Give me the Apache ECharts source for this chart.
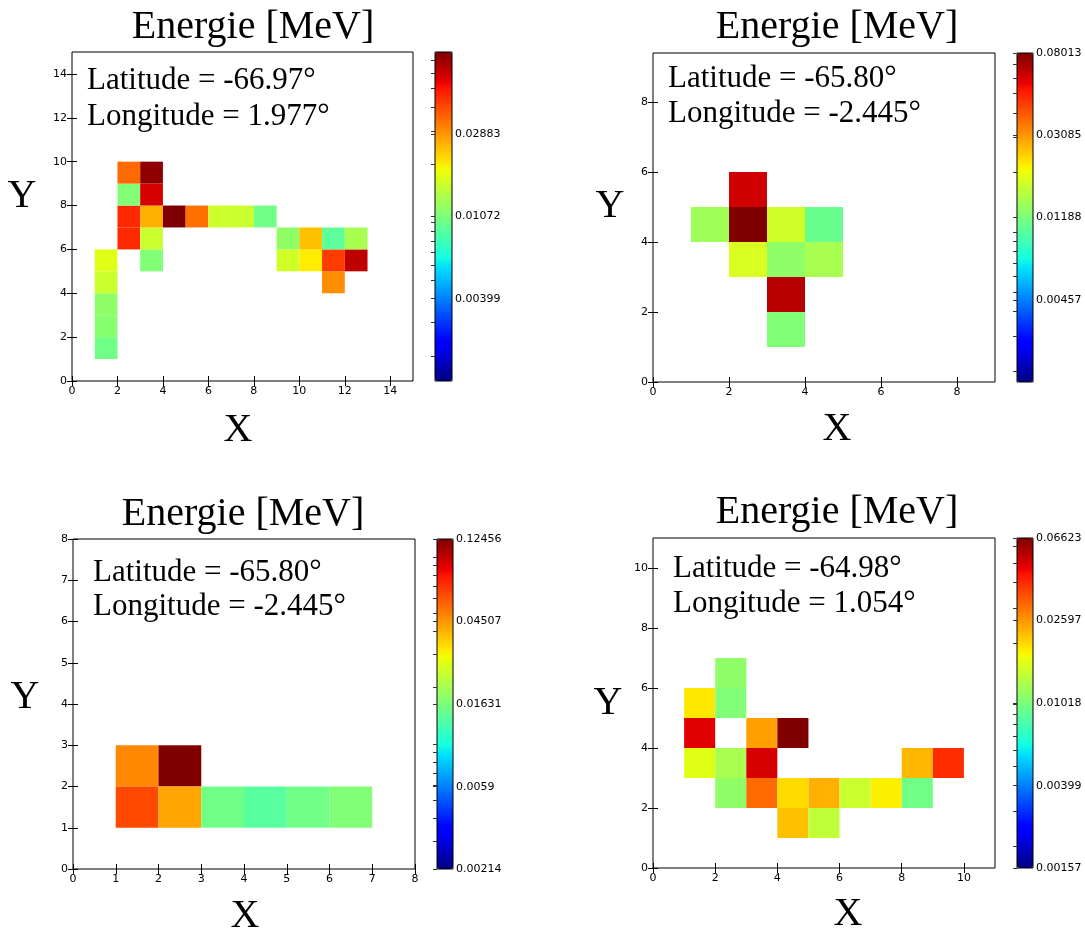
<!DOCTYPE html>
<html><head><meta charset="utf-8">
<script src="https://cdn.jsdelivr.net/npm/echarts@6/dist/echarts.min.js"></script>
<style>html,body{margin:0;padding:0;background:#fff}#c{width:1085px;height:929px}</style>
</head><body><div id="c"></div>
<script>
// ---------------- data ----------------
const titleText = 'Energie [MeV]';
const xName = 'X';
const yName = 'Y';

// panel 1 (top-left)
const p1Lat = 'Latitude = -66.97°';
const p1Lon = 'Longitude = 1.977°';
const p1XRange = [0, 15];
const p1YRange = [0, 15];
const p1XTicks = [0, 2, 4, 6, 8, 10, 12, 14];
const p1YTicks = [0, 2, 4, 6, 8, 10, 12, 14];
const p1CbarRange = [0.001484, 0.0775];
const p1CbarTicks = [0.00399, 0.01072, 0.02883];
const p1Cells = [
  [1,1,0.01014],[1,2,0.01138],[1,3,0.01183],[1,4,0.01555],[1,5,0.01737],
  [2,6,0.04597],[2,7,0.04597],[2,8,0.01093],[2,9,0.03484],
  [3,5,0.01093],[3,6,0.01555],[3,7,0.02600],[3,8,0.05737],[3,9,0.07330],
  [4,7,0.07750],[5,7,0.03390],[6,7,0.01580],[7,7,0.01555],[8,7,0.01014],
  [9,5,0.01611],[9,6,0.01183],[10,5,0.02019],[10,6,0.02430],
  [11,4,0.02986],[11,5,0.04229],[11,6,0.00923],[12,5,0.06232],[12,6,0.01327]
];

// panel 2 (top-right)
const p2Lat = 'Latitude = -65.80°';
const p2Lon = 'Longitude = -2.445°';
const p2XRange = [0, 9];
const p2YRange = [0, 9.4];
const p2XTicks = [0, 2, 4, 6, 8];
const p2YTicks = [0, 2, 4, 6, 8];
const p2CbarRange = [0.0017594, 0.08013];
const p2CbarTicks = [0.00457, 0.01188, 0.03085, 0.08013];
const p2Cells = [
  [2,5,0.06135],[1,4,0.01410],[2,4,0.08013],[3,4,0.01760],[4,4,0.01087],
  [2,3,0.01821],[3,3,0.01306],[4,3,0.01460],[3,2,0.06675],[3,1,0.01210]
];

// panel 3 (bottom-left)
const p3Lat = 'Latitude = -65.80°';
const p3Lon = 'Longitude = -2.445°';
const p3XRange = [0, 8];
const p3YRange = [0, 8];
const p3XTicks = [0, 1, 2, 3, 4, 5, 6, 7, 8];
const p3YTicks = [0, 1, 2, 3, 4, 5, 6, 7, 8];
const p3CbarRange = [0.00214, 0.12456];
const p3CbarTicks = [0.00214, 0.0059, 0.01631, 0.04507, 0.12456];
const p3Cells = [
  [1,2,0.04814],[2,2,0.12456],[1,1,0.06344],[2,1,0.04242],
  [3,1,0.01542],[4,1,0.01371],[5,1,0.01542],[6,1,0.01666]
];

// panel 4 (bottom-right)
const p4Lat = 'Latitude = -64.98°';
const p4Lon = 'Longitude = 1.054°';
const p4XRange = [0, 11];
const p4YRange = [0, 11];
const p4XTicks = [0, 2, 4, 6, 8, 10];
const p4YTicks = [0, 2, 4, 6, 8, 10];
const p4CbarRange = [0.00157, 0.06623];
const p4CbarTicks = [0.00157, 0.00399, 0.01018, 0.02597, 0.06623];
const p4Cells = [
  [2,6,0.01119],[1,5,0.01884],[2,5,0.01039],
  [1,4,0.04838],[3,4,0.02513],[4,4,0.06623],
  [1,3,0.01609],[2,3,0.01248],[3,3,0.04984],[8,3,0.02288],[9,3,0.03983],
  [2,2,0.01119],[3,2,0.03111],[4,2,0.01985],[5,2,0.02358],[6,2,0.01450],[7,2,0.01828],[8,2,0.00968],
  [4,1,0.02213],[5,1,0.01391]
];

// ---------------- layout / style ----------------
const panels = [
  {lat:p1Lat, lon:p1Lon, xr:p1XRange, yr:p1YRange, xt:p1XTicks, yt:p1YTicks, cr:p1CbarRange, ct:p1CbarTicks, cells:p1Cells,
   grid:{left:72, top:52, width:341, height:329}, cbar:{left:435, top:52, width:17, height:329},
   title:[253, 47], xl:[238, 450], yl:[22, 216], ann:[87, 96, 132]},
  {lat:p2Lat, lon:p2Lon, xr:p2XRange, yr:p2YRange, xt:p2XTicks, yt:p2YTicks, cr:p2CbarRange, ct:p2CbarTicks, cells:p2Cells,
   grid:{left:653, top:53, width:342, height:329}, cbar:{left:1017, top:53, width:16, height:329},
   title:[837, 47], xl:[837, 449], yl:[610, 226], ann:[668, 94, 129]},
  {lat:p3Lat, lon:p3Lon, xr:p3XRange, yr:p3YRange, xt:p3XTicks, yt:p3YTicks, cr:p3CbarRange, ct:p3CbarTicks, cells:p3Cells,
   grid:{left:73, top:539, width:342, height:330}, cbar:{left:437, top:539, width:16, height:330},
   title:[243, 534], xl:[245, 936], yl:[25, 717], ann:[93, 588, 622]},
  {lat:p4Lat, lon:p4Lon, xr:p4XRange, yr:p4YRange, xt:p4XTicks, yt:p4YTicks, cr:p4CbarRange, ct:p4CbarTicks, cells:p4Cells,
   grid:{left:653, top:538, width:342, height:330}, cbar:{left:1017, top:538, width:16, height:330},
   title:[837, 532], xl:[848, 934], yl:[608, 723], ann:[673, 584, 619]}
];

function interp(t, pts) {
  for (let i = 1; i < pts.length; i++) {
    if (t <= pts[i][0]) {
      const a = pts[i-1], b = pts[i];
      return a[1] + (b[1]-a[1]) * (t - a[0]) / (b[0] - a[0]);
    }
  }
  return pts[pts.length-1][1];
}
function jet(t) {
  const r = interp(t, [[0,0],[0.35,0],[0.66,1],[0.89,1],[1,0.5]]);
  const g = interp(t, [[0,0],[0.125,0],[0.375,1],[0.64,1],[0.91,0],[1,0]]);
  const b = interp(t, [[0,0.5],[0.11,1],[0.34,1],[0.65,0],[1,0]]);
  const h = v => Math.round(v*255).toString(16).padStart(2,'0');
  return '#' + h(r) + h(g) + h(b);
}
const jetColors = [];
for (let i = 0; i <= 200; i++) jetColors.push(jet(i/200));

const SERIF = '"Liberation Serif", "DejaVu Serif", serif';
const SANS = '"DejaVu Sans", sans-serif';
const L10 = Math.log10;

const grids = [], xAxes = [], yAxes = [], series = [], visualMaps = [], graphics = [];

panels.forEach((p, i) => {
  const gi = grids.length;
  grids.push(Object.assign({show:true, borderColor:'#000', borderWidth:1, backgroundColor:'transparent', containLabel:false, z:5}, p.grid));
  const tickStyle = {show:true, inside:true, length:5, lineStyle:{color:'#000', width:1}};
  const labStyle = {color:'#000', fontFamily:SANS, fontSize:11, margin:5};
  xAxes.push({type:'value', gridIndex:gi, position:'bottom', min:p.xr[0], max:p.xr[1],
    axisLine:{show:false}, splitLine:{show:false},
    axisTick:Object.assign({customValues:p.xt}, tickStyle),
    axisLabel:Object.assign({customValues:p.xt}, labStyle)});
  xAxes.push({type:'value', gridIndex:gi, position:'top', min:p.xr[0], max:p.xr[1],
    axisLine:{show:false}, splitLine:{show:false},
    axisTick:Object.assign({customValues:p.xt}, tickStyle), axisLabel:{show:false}});
  yAxes.push({type:'value', gridIndex:gi, position:'left', min:p.yr[0], max:p.yr[1],
    axisLine:{show:false}, splitLine:{show:false},
    axisTick:Object.assign({customValues:p.yt}, tickStyle),
    axisLabel:Object.assign({customValues:p.yt}, labStyle)});
  yAxes.push({type:'value', gridIndex:gi, position:'right', min:p.yr[0], max:p.yr[1],
    axisLine:{show:false}, splitLine:{show:false},
    axisTick:Object.assign({customValues:p.yt}, tickStyle), axisLabel:{show:false}});
  const si = series.length;
  series.push({
    type:'custom', coordinateSystem:'cartesian2d',
    xAxisIndex: xAxes.length-2, yAxisIndex: yAxes.length-2,
    encode:{x:0, y:1},
    data: p.cells.map(c => [c[0], c[1], L10(c[2])]),
    renderItem: (params, api) => {
      const a = api.coord([api.value(0), api.value(1)+1]);
      const b = api.coord([api.value(0)+1, api.value(1)]);
      return {type:'rect', shape:{x:a[0], y:a[1], width:b[0]-a[0], height:b[1]-a[1]},
        style:{fill: api.visual('color'), stroke:null}};
    },
    silent:true
  });
  const lmin = L10(p.cr[0]), lmax = L10(p.cr[1]);
  visualMaps.push({type:'continuous', seriesIndex:si, dimension:2, min:lmin, max:lmax,
    inRange:{color:jetColors}, calculable:false, hoverLink:false, padding:0,
    itemWidth:p.cbar.width, itemHeight:p.cbar.height, left:p.cbar.left, top:p.cbar.top,
    orient:'vertical', text:null, showLabel:false});
  // colorbar axis
  const ci = grids.length;
  grids.push(Object.assign({show:true, borderColor:'#000', borderWidth:1, backgroundColor:'transparent', z:10}, p.cbar));
  xAxes.push({type:'value', gridIndex:ci, show:false, min:0, max:1});
  const minor = [];
  for (let d = -4; d <= 0; d++) for (let m = 1; m <= 9; m++) {
    const v = m * Math.pow(10, d);
    if (v > p.cr[0] && v < p.cr[1]) minor.push(L10(v));
  }
  const major = p.ct.map(L10);
  yAxes.push({type:'value', gridIndex:ci, position:'right', min:lmin, max:lmax, z:10,
    axisLine:{show:false}, splitLine:{show:false},
    axisTick:{show:true, inside:true, length:4, customValues:minor.concat(major), lineStyle:{color:'#333', width:1}},
    axisLabel:{customValues:major, color:'#000', fontFamily:SANS, fontSize:11, margin:3,
      formatter: v => parseFloat(Math.pow(10, v).toFixed(5)).toString()}});
  // texts
  graphics.push({type:'text', x:p.title[0], y:p.title[1], z:100,
    style:{text:titleText, font:'40px ' + SERIF, fill:'#000', align:'center', verticalAlign:'bottom'}});
  graphics.push({type:'text', x:p.xl[0], y:p.xl[1], z:100,
    style:{text:xName, font:'40px ' + SERIF, fill:'#000', align:'center', verticalAlign:'bottom'}});
  graphics.push({type:'text', x:p.yl[0], y:p.yl[1], z:100,
    style:{text:yName, font:'40px ' + SERIF, fill:'#000', align:'center', verticalAlign:'bottom'}});
  graphics.push({type:'text', x:p.ann[0], y:p.ann[1], z:100,
    style:{text:p.lat, font:'31px ' + SERIF, fill:'#000', align:'left', verticalAlign:'bottom'}});
  graphics.push({type:'text', x:p.ann[0], y:p.ann[2], z:100,
    style:{text:p.lon, font:'31px ' + SERIF, fill:'#000', align:'left', verticalAlign:'bottom'}});
});

const chart = echarts.init(document.getElementById('c'), null, {renderer:'canvas'});
chart.setOption({
  animation:false,
  backgroundColor:'#fff',
  grid:grids, xAxis:xAxes, yAxis:yAxes, series:series, visualMap:visualMaps,
  graphic:{elements:graphics}
});
</script>
</body></html>
